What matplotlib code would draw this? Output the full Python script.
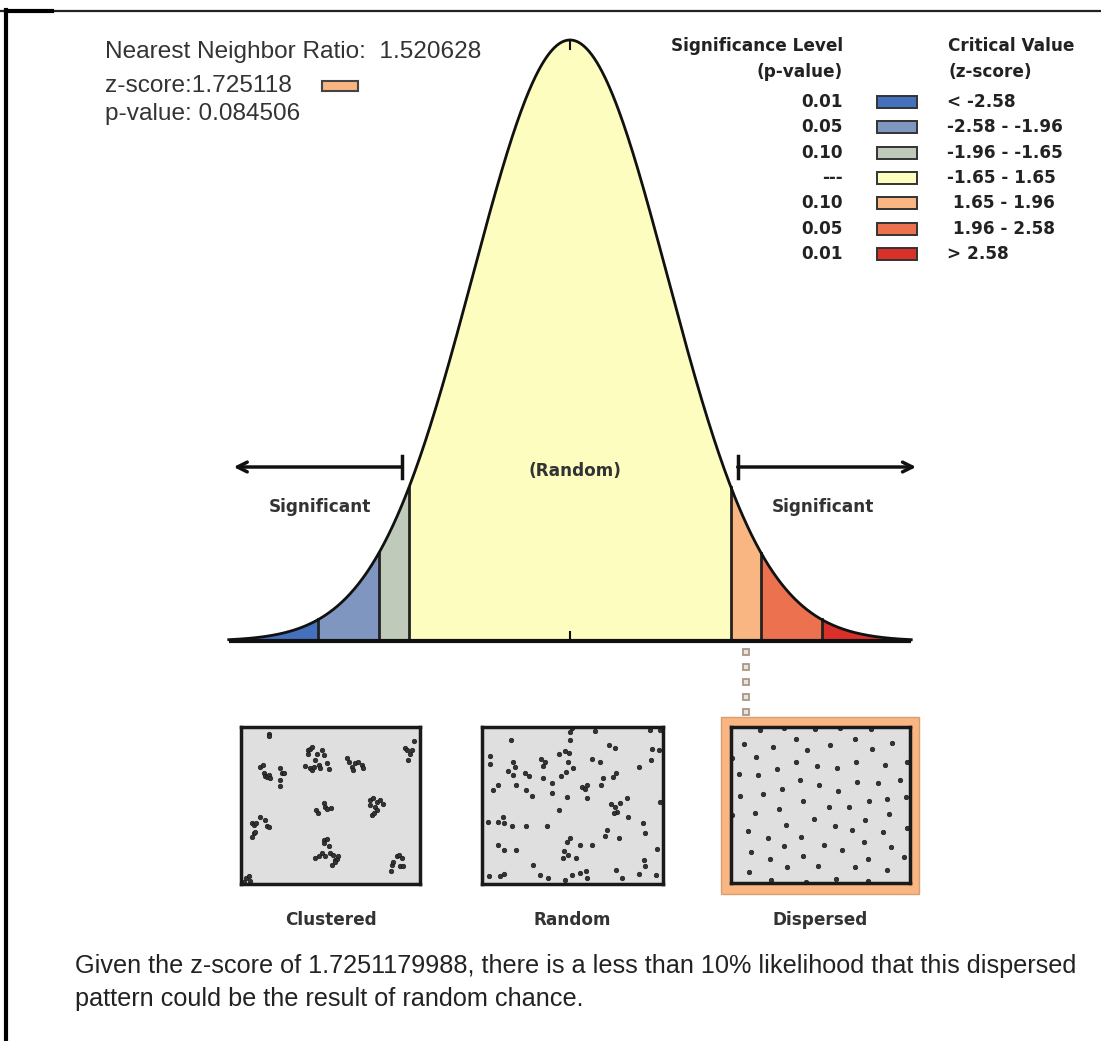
import numpy as np
import matplotlib
matplotlib.use("Agg")
import matplotlib.pyplot as plt
from matplotlib.patches import Rectangle

# --- report values ---
nn_ratio = "1.520628"
z_score = "1.725118"
p_value = "0.084506"
z_long = "1.7251179988"

# --- legend / bins ---
crit = [-3.5, -2.58, -1.96, -1.65, 1.65, 1.96, 2.58, 3.5]
bin_colors = ["#4570bd", "#7f96c0", "#bfcabb", "#fdfdc0", "#f9b582", "#ec714f", "#d9312a"]
sig_levels = ["0.01", "0.05", "0.10", "---", "0.10", "0.05", "0.01"]
z_ranges = ["< -2.58", "-2.58 - -1.96", "-1.96 - -1.65", "-1.65 - 1.65",
            " 1.65 - 1.96", " 1.96 - 2.58", "> 2.58"]
result_bin = 4  # 1.65 - 1.96

# --- point patterns (in zoomed pixel units) ---
clustered = [(145,100),(145,106),(120,200),(128,195),(130,220),(135,228),(140,232),(145,225),
             (150,235),(178,205),(185,218),(192,218),(178,240),(180,258),
             (262,150),(268,145),(275,140),(262,160),(290,160),(305,150),(312,165),(285,180),
             (295,195),(255,197),(268,205),(275,210),(280,200),(300,205),(320,188),(325,208),
             (382,172),(388,185),(395,200),(405,188),(415,185),(425,195),(430,205),(398,210),
             (555,142),(560,150),(570,160),(575,150),(582,122),(565,178),
             (288,330),(292,340),(312,310),(315,320),(320,328),(332,325),
             (450,300),(460,295),(470,305),(480,300),(450,315),(465,320),(472,330),(455,345),
             (462,340),(488,312),
             (95,370),(100,375),(108,368),(120,350),(135,360),(140,378),(145,380),(100,400),
             (95,410),(105,395),
             (312,420),(320,418),(310,430),(325,440),(305,460),(315,468),(285,475),(295,470),
             (330,460),(340,465),(345,480),(350,478),(355,470),(335,495),(345,488),
             (515,495),(520,488),(530,470),(538,465),(545,475),(540,500),(550,498),(512,515),
             (78,535),(85,530),(88,545),(72,548)]
random_pts = [(875,118),(1050,95),(1050,118),(1125,93),(1290,88),(1318,88),(1055,82),
              (810,168),(810,190),(880,185),(885,200),(865,212),(880,225),(915,218),(928,228),
              (963,175),(975,185),(968,198),(1018,160),(1035,152),(1048,158),(1045,185),
              (1058,205),(1038,215),(1022,228),(968,235),(995,248),(1115,175),(1140,185),
              (1168,135),(1185,142),(1295,145),(1315,150),(1292,180),(1255,202),(1188,218),
              (1180,230),(1148,235),(1142,255),(1085,262),(1095,268),(1100,255),(1042,292),
              (1100,295),(820,270),(835,255),(890,255),(920,270),(935,288),(995,278),
              (1018,330),(1172,312),(1185,320),(1190,335),(1200,310),(1220,295),(1222,352),
              (1183,338),(1318,305),
              (805,365),(835,365),(850,350),(852,368),(878,378),(920,378),(982,378),
              (1268,368),(1275,400),(1160,390),(1155,408),(1195,415),(1050,415),(1040,425),
              (1080,435),(1115,435),(1310,448),
              (835,435),(853,452),(890,452),(1032,455),(1045,465),(1030,475),(1068,475),
              (940,497),(960,525),(985,535),(1035,542),(1055,525),(1080,520),(1098,515),
              (1100,535),(1188,512),(1205,535),(1255,522),(1270,480),(1275,498),(1308,525),
              (808,530),(840,530),(852,522)]
dispersed = [(178,90),(250,85),(345,88),(420,86),(512,87),(130,133),(218,142),(288,118),
             (320,150),(390,136),(465,118),(515,148),(575,130),(168,172),(288,186),(350,200),
             (410,205),(468,186),(555,195),(115,224),(172,225),(230,208),(298,240),(355,255),
             (472,248),(535,250),(600,240),(622,188),(118,290),(188,283),(245,268),(415,275),
             (308,304),(388,323),(448,322),(508,305),(562,297),(618,293),(165,340),(235,328),
             (340,358),(405,378),(455,392),(495,360),(568,344),(142,395),(258,375),(202,415),
             (302,412),(373,435),(427,452),(493,428),(550,397),(573,442),(252,440),(152,457),
             (210,478),(308,468),(505,478),(612,473),(145,516),(260,503),(353,500),(465,503),
             (562,510),(212,542),(318,548),(408,538),(505,543),(622,385),(95,345),(96,174)]
panel_labels = ["Clustered", "Random", "Dispersed"]

W, H = 1101, 1041
fig = plt.figure(figsize=(W / 100, H / 100), dpi=100)
fig.patch.set_facecolor("white")

# background axes in pixel units for frame + text
bg = fig.add_axes([0, 0, 1, 1])
bg.set_xlim(0, W)
bg.set_ylim(H, 0)
bg.axis("off")

# frame lines
bg.plot([0, W], [11, 11], color="#222222", lw=1.6)
bg.plot([6, 52], [11, 11], color="black", lw=3)
bg.plot([6, 6], [10, H], color="black", lw=3)

SANS = ["Liberation Sans", "DejaVu Sans"]
txt = "#333333"
bg.text(105, 52, "Nearest Neighbor Ratio:  " + nn_ratio, fontsize=17.6, family=SANS,
        color=txt, va="center", ha="left")
bg.text(105, 86, "z-score:" + z_score, fontsize=17.6, family=SANS,
        color=txt, va="center", ha="left")
bg.add_patch(Rectangle((322, 81), 36, 10, facecolor=bin_colors[result_bin],
                       edgecolor="#444444", lw=1.5))
bg.text(105, 114, "p-value: " + p_value, fontsize=17.6, family=SANS,
        color=txt, va="center", ha="left")

# legend
lg = dict(fontsize=12.2, fontweight="bold", color="#222222", va="center")
bg.text(843, 46, "Significance Level", ha="right", **lg)
bg.text(843, 72, "(p-value)", ha="right", **lg)
bg.text(948, 46, "Critical Value", ha="left", **lg)
bg.text(948, 72, "(z-score)", ha="left", **lg)
for i, (p, zr, c) in enumerate(zip(sig_levels, z_ranges, bin_colors)):
    y = 102 + i * 25.3
    bg.text(843, y, p, ha="right", **lg)
    bg.add_patch(Rectangle((877, y - 6), 40, 12, facecolor=c, edgecolor="#333333", lw=1.4))
    bg.text(947, y, zr, ha="left", **lg)

# normal curve axes (z units)
ax = fig.add_axes([228.75 / W, (H - 641) / H, 682.5 / W, 602.6 / H])
ax.set_xlim(-3.5, 3.5)
ax.set_ylim(0, 0.4)
ax.axis("off")


def pdf(z):
    return np.exp(-0.5 * np.asarray(z) ** 2) / np.sqrt(2 * np.pi)


for i in range(len(crit) - 1):
    zz = np.linspace(crit[i], crit[i + 1], 200)
    ax.fill_between(zz, 0, pdf(zz), color=bin_colors[i], lw=0)
for c in crit[1:-1]:
    ax.plot([c, c], [0, pdf(c)], color="#222222", lw=2)
zz = np.linspace(-3.5, 3.5, 800)
ax.plot(zz, pdf(zz), color="#111111", lw=2, clip_on=False)
ax.plot([-3.5, 3.5], [0, 0], color="#111111", lw=3, clip_on=False, solid_capstyle="butt")
ax.plot([0, 0], [0, 0.006], color="#111111", lw=1.5)
ax.plot([0, 0], [pdf(0) - 0.006, pdf(0)], color="#111111", lw=1.5, clip_on=False)

# significance arrows
ay = 0.4 * (641 - 467) / 602.6
bar = 0.0075
aprops = dict(arrowstyle="->,head_length=0.7,head_width=0.35", color="#111111", lw=2.5,
              shrinkA=0, shrinkB=0)
ax.annotate("", xy=(-3.45, ay), xytext=(-1.72, ay), arrowprops=aprops, annotation_clip=False)
ax.annotate("", xy=(3.55, ay), xytext=(1.72, ay), arrowprops=aprops, annotation_clip=False)
ax.plot([-1.72, -1.72], [ay - bar, ay + bar], color="#111111", lw=2.5)
ax.plot([1.72, 1.72], [ay - bar, ay + bar], color="#111111", lw=2.5)

lab = dict(fontsize=12.2, fontweight="bold", color="#333333", ha="center", va="center")
sy = 0.4 * (641 - 507) / 602.6
ax.text(-2.56, sy, "Significant", **lab)
ax.text(2.59, sy, "Significant", **lab)
ax.text(0.05, 0.4 * (641 - 471) / 602.6, "(Random)", **lab)

# dotted link from result bin down to the dispersed panel
zc = (crit[result_bin] + crit[result_bin + 1]) / 2
ax.plot([zc] * 5, 0.4 * (641 - np.linspace(652, 712, 5)) / 602.6, "s", ms=5,
        mfc="#ece4dc", mec="#a89888", mew=1.3, clip_on=False)

# point-pattern panels
panels = [
    (clustered, (241, 727, 179, 157), (62, 80, 538, 473)),
    (random_pts, (482, 727, 181, 157), (787, 80, 541, 473)),
    (dispersed, (731, 727, 179, 156), (92, 82, 538, 468)),
]
# orange highlight frame behind the dispersed panel
bg.add_patch(Rectangle((721, 717), 198, 177, facecolor=bin_colors[result_bin],
                       edgecolor="#d8a070", lw=1))
for (pts, (px, py, pw, ph), (ox, oy, ow, oh)), name in zip(panels, panel_labels):
    pa = fig.add_axes([px / W, (H - py - ph) / H, pw / W, ph / H])
    pa.set_facecolor("#dfdfdf")
    pa.set_xlim(0, 1)
    pa.set_ylim(1, 0)
    pa.set_xticks([])
    pa.set_yticks([])
    for s in pa.spines.values():
        s.set_linewidth(2.5)
        s.set_color("#1a1a1a")
    arr = np.array(pts, dtype=float)
    pa.scatter((arr[:, 0] - ox) / ow, (arr[:, 1] - oy) / oh, s=11, color="#333333",
               edgecolors="#111111", lw=0.4, clip_on=False)
    bg.text(px + pw / 2, 920, name, fontsize=12.2, fontweight="bold", color="#333333",
            ha="center", va="center")

# bottom sentence
bg.text(75, 966, "Given the z-score of " + z_long +
        ", there is a less than 10% likelihood that this dispersed",
        fontsize=18.2, family=SANS, color="#222222", va="center", ha="left")
bg.text(75, 999, "pattern could be the result of random chance.",
        fontsize=18.2, family=SANS, color="#222222", va="center", ha="left")

fig.savefig("out.png", dpi=100, facecolor="white")
